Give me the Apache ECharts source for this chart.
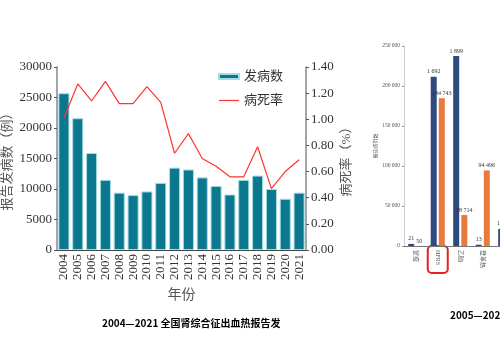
<!DOCTYPE html>
<html>
<head>
<meta charset="utf-8">
<script src="https://cdn.jsdelivr.net/npm/echarts@6/dist/echarts.min.js"></script>
<style>html,body{margin:0;padding:0;background:#fff;overflow:hidden;width:500px;height:350px;}#main{width:530px;height:350px;}</style>
</head>
<body>
<div id="main"></div>
<script>
// ---- Left chart data ----
const years = ['2004','2005','2006','2007','2008','2009','2010','2011','2012','2013','2014','2015','2016','2017','2018','2019','2020','2021'];
const cases = [25700,21600,15900,11500,9400,9000,9600,11000,13500,13200,11900,10500,9100,11500,12200,10000,8400,9400];
const fatality = [1.01,1.27,1.14,1.29,1.12,1.12,1.25,1.13,0.74,0.89,0.70,0.64,0.56,0.56,0.79,0.47,0.60,0.69];
const leftTicks = [0,5000,10000,15000,20000,25000,30000];
const rightTicks = ['0.00','0.20','0.40','0.60','0.80','1.00','1.20','1.40'];

// ---- Right chart data ----
const diseases = ['鼠疫','HFRS','乙脑','登革热',''];
const deaths = [21,1692,1899,13,171];
const reported = [50,184743,38714,94496,null];

const fmtSpace = v => String(v).replace(/\B(?=(\d{3})+(?!\d))/g, ' ');
const serif = "'Liberation Serif','Noto Sans CJK SC',serif";
const sans = "'Noto Sans CJK SC','Noto Sans',sans-serif";

const chart = echarts.init(document.getElementById('main'), null, {renderer:'canvas'});
chart.setOption({
  animation: false,
  textStyle: {fontFamily: serif},
  title: [
    {text: '2004—2021 全国肾综合征出血热报告发', left: 102, top: 318, padding: 0,
     textStyle: {fontFamily: sans, fontSize: 10, fontWeight: 'bold', color: '#000'}},
    {text: '2005—2020', left: 450, top: 310, padding: 0,
     textStyle: {fontFamily: sans, fontSize: 10, fontWeight: 'bold', color: '#000'}}
  ],
  legend: {
    left: 213, top: 65, orient: 'vertical', itemWidth: 20, itemHeight: 14, itemGap: 11,
    textStyle: {fontSize: 13, color: '#333', fontFamily: serif},
    data: [{name: '发病数', icon: 'path://M0,0H20V5H0Z'}, {name: '病死率', icon: 'path://M0,0H20V1.2H0Z'}]
  },
  grid: [
    {left: 57, top: 67, width: 249, height: 183},
    {left: 404, top: 46, width: 112.5, height: 200}
  ],
  xAxis: [
    {type: 'category', gridIndex: 0, data: years,
     axisLine: {lineStyle: {color: '#444', width: 1}}, axisTick: {show: false},
     axisLabel: {rotate: 90, interval: 0, fontSize: 13, color: '#333', margin: 4, fontFamily: serif},
     name: '年份', nameLocation: 'middle', nameGap: 29,
     nameTextStyle: {fontSize: 14, color: '#555', fontFamily: serif}},
    {type: 'category', gridIndex: 1, data: diseases,
     axisLine: {lineStyle: {color: '#777', width: 1}}, axisTick: {show: false},
     axisLabel: {rotate: -90, interval: 0, fontSize: 6, color: '#555', margin: 4, fontFamily: serif}}
  ],
  yAxis: [
    {type: 'value', gridIndex: 0, min: leftTicks[0], max: leftTicks[leftTicks.length-1], interval: leftTicks[1]-leftTicks[0],
     axisLine: {show: true, lineStyle: {color: '#888', width: 1.5}},
     axisTick: {show: true, length: 3, lineStyle: {color: '#555'}},
     axisLabel: {fontSize: 13, color: '#333', margin: 5, fontFamily: serif, formatter: v => String(v)},
     splitLine: {show: false},
     name: '报告发病数（例）', nameLocation: 'middle', nameGap: 43,
     nameTextStyle: {fontSize: 13, color: '#555', fontFamily: serif}},
    {type: 'value', gridIndex: 0, position: 'right', min: 0, max: 1.4, interval: 0.2,
     axisLine: {show: true, lineStyle: {color: '#888', width: 1.5}},
     axisTick: {show: true, length: 3, lineStyle: {color: '#555'}},
     axisLabel: {fontSize: 13, color: '#333', margin: 5, fontFamily: serif, formatter: v => rightTicks[Math.round(v/0.2)]},
     splitLine: {show: false},
     name: '病死率（%）', nameLocation: 'middle', nameGap: 34,
     nameTextStyle: {fontSize: 13, color: '#555', fontFamily: serif}},
    {type: 'value', gridIndex: 1, min: 0, max: 250000, interval: 50000,
     axisLine: {show: true, lineStyle: {color: '#ccc', width: 1}},
     axisTick: {show: true, length: 2, lineStyle: {color: '#999'}},
     axisLabel: {fontSize: 5.5, color: '#555', margin: 4, fontFamily: serif, formatter: fmtSpace},
     splitLine: {show: false},
     name: '报告病例数', nameLocation: 'middle', nameGap: 24,
     nameTextStyle: {fontSize: 5, color: '#555', fontFamily: serif}},
    {type: 'value', gridIndex: 1, min: 0, max: 2000, show: false, splitLine: {show: false}}
  ],
  series: [
    {name: '发病数', type: 'bar', xAxisIndex: 0, yAxisIndex: 0, data: cases, barCategoryGap: '20%',
     itemStyle: {color: '#0b7890', borderColor: '#a6dbe3', borderWidth: 1}},
    {name: '病死率', type: 'line', xAxisIndex: 0, yAxisIndex: 1, data: fatality, symbol: 'none',
     lineStyle: {color: '#ff3333', width: 1.2}, itemStyle: {color: '#ff3333'}},
    {name: '死亡数', type: 'bar', xAxisIndex: 1, yAxisIndex: 3, data: deaths, barWidth: 6, barGap: '35%',
     itemStyle: {color: '#2f4a7c'},
     label: {show: true, position: 'top', distance: 2, fontSize: 6, color: '#333', fontFamily: serif, formatter: p => fmtSpace(p.value)}},
    {name: '报告病例数', type: 'bar', xAxisIndex: 1, yAxisIndex: 2, data: reported, barWidth: 6,
     itemStyle: {color: '#e87a3e'},
     label: {show: true, position: 'top', distance: 2, fontSize: 6, color: '#333', fontFamily: serif, formatter: p => fmtSpace(p.value)}}
  ]
});

// Red highlight box around the HFRS axis label
const cx = chart.convertToPixel({xAxisIndex: 1}, 'HFRS');
const by = chart.convertToPixel({yAxisIndex: 2}, 0);
chart.setOption({
  graphic: [{type: 'rect', shape: {x: cx - 10, y: by, width: 20, height: 27, r: 4},
             style: {fill: 'none', stroke: '#e52222', lineWidth: 2}}]
});
</script>
</body>
</html>
